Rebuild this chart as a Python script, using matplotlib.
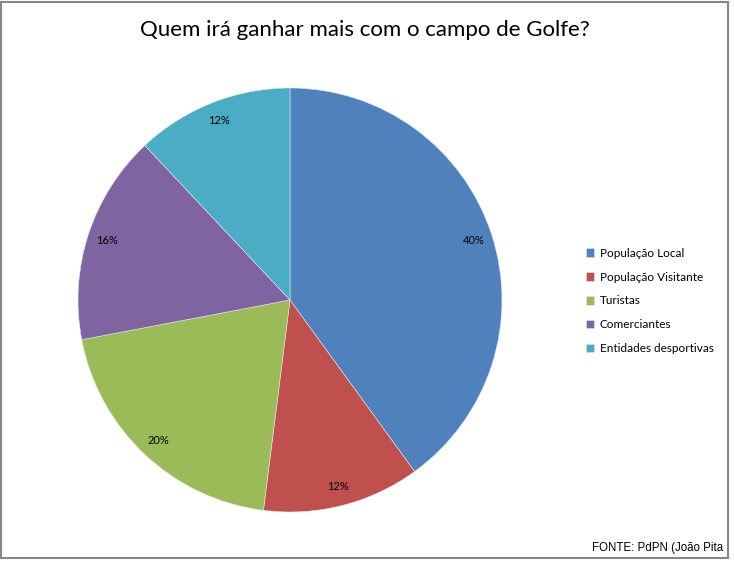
#!/usr/bin/env python
"""Pie chart: Quem irá ganhar mais com o campo de Golfe?"""

import matplotlib

matplotlib.use("Agg")
import matplotlib.pyplot as plt
from matplotlib.patches import Rectangle

categories = [
    "População Local",
    "População Visitante",
    "Turistas",
    "Comerciantes",
    "Entidades desportivas",
]
shares = [40, 12, 20, 16, 12]
colors = ["#4F81BD", "#C0504D", "#9BBB59", "#8064A2", "#4BACC6"]

TITLE = "Quem irá ganhar mais com o campo de Golfe?"
SOURCE = "FONTE: PdPN (João Pita"

plt.rcParams["font.family"] = ["Lato", "DejaVu Sans"]

W, H = 734, 564
fig = plt.figure(figsize=(W / 100, H / 100), dpi=100)

# outer chart border
fig.add_artist(Rectangle((1.5 / W, 1 - 557.5 / H), 726 / W, 556 / H,
                         transform=fig.transFigure, fill=False,
                         edgecolor="#868686", linewidth=1.5))

cx, cy, r = 290, 300, 212
ax = fig.add_axes([(cx - r) / W, 1 - (cy + r) / H, 2 * r / W, 2 * r / H])
wedges, _, autotexts = ax.pie(
    shares,
    colors=colors,
    startangle=90,
    counterclock=False,
    autopct="%d%%",
    pctdistance=0.91,
    wedgeprops={"edgecolor": "#dfe6ee", "linewidth": 0.4},
    textprops={"fontsize": 8, "color": "black"},
)
ax.set_xlim(-1, 1)
ax.set_ylim(-1, 1)
ax.set_aspect("equal")

fig.text(365 / W, 1 - 30 / H, TITLE, ha="center", va="center", fontsize=16)

ax.legend(wedges, categories, loc="center left",
          bbox_to_anchor=(581 / W, 1 - 301 / H), bbox_transform=fig.transFigure,
          frameon=False, fontsize=8.5, handlelength=0.7, handleheight=0.7,
          handletextpad=0.5, labelspacing=1.1, borderaxespad=0)

fig.text(723 / W, 1 - 548 / H, SOURCE, ha="right", va="center", fontsize=8.3,
         family=["Liberation Sans", "DejaVu Sans"])

fig.savefig("out.png", dpi=100)
